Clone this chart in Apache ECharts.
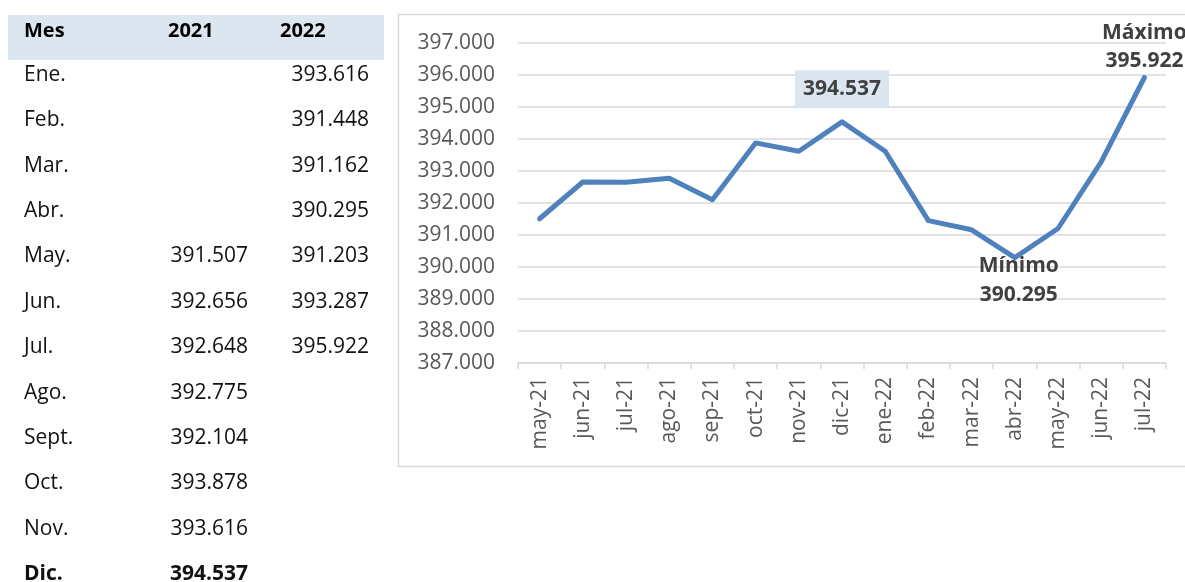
<!DOCTYPE html>
<html>
<head>
<meta charset="utf-8">
<script src="https://cdn.jsdelivr.net/npm/echarts@6/dist/echarts.min.js"></script>
<style>
html,body{margin:0;padding:0;background:#fff;}
#c{width:1185px;height:582px;}
</style>
</head>
<body>
<div id="c"></div>
<script>
// ---- data ----
var tableHeader = ['Mes', '2021', '2022'];
var tableMonths = ['Ene.', 'Feb.', 'Mar.', 'Abr.', 'May.', 'Jun.', 'Jul.', 'Ago.', 'Sept.', 'Oct.', 'Nov.', 'Dic.'];
var values2021 = [null, null, null, null, 391507, 392656, 392648, 392775, 392104, 393878, 393616, 394537];
var values2022 = [393616, 391448, 391162, 390295, 391203, 393287, 395922, null, null, null, null, null];
var categories = ['may-21', 'jun-21', 'jul-21', 'ago-21', 'sep-21', 'oct-21', 'nov-21', 'dic-21',
                  'ene-22', 'feb-22', 'mar-22', 'abr-22', 'may-22', 'jun-22', 'jul-22'];
var yTicks = [387000, 388000, 389000, 390000, 391000, 392000, 393000, 394000, 395000, 396000, 397000];
var highlightLabel = 'dic-21';
var minLabel = 'Mínimo';
var maxLabel = 'Máximo';

// ---- helpers ----
function fmt(v) {
  return String(Math.round(v)).replace(/\B(?=(\d{3})+(?!\d))/g, '.');
}
var FONT = '"Open Sans", "Noto Sans", sans-serif';

// series built from the table columns
var seriesValues = values2021.filter(function (v) { return v != null; })
  .concat(values2022.filter(function (v) { return v != null; }));

var maxV = Math.max.apply(null, seriesValues);
var minV = Math.min.apply(null, seriesValues);
var maxIdx = seriesValues.indexOf(maxV);
var minIdx = seriesValues.indexOf(minV);
var hiIdx = categories.indexOf(highlightLabel);

var seriesData = seriesValues.map(function (v, i) {
  var item = { value: v };
  if (i === hiIdx) {
    item.label = {
      show: true, position: 'top', distance: 12,
      formatter: function (p) { return fmt(p.value); },
      backgroundColor: '#DCE6F1', padding: [6, 8, 6, 8],
      fontFamily: FONT, fontWeight: 'bold', fontSize: 21, color: '#404040', lineHeight: 26
    };
  } else if (i === maxIdx) {
    item.label = {
      show: true, position: 'top', distance: 1,
      formatter: function (p) { return maxLabel + '\n' + fmt(p.value); },
      fontFamily: FONT, fontWeight: 'bold', fontSize: 21, color: '#404040', lineHeight: 28, align: 'center'
    };
  } else if (i === minIdx) {
    item.label = {
      show: true, position: 'bottom', distance: 0, offset: [4, -8],
      formatter: function (p) { return minLabel + '\n' + fmt(p.value); },
      fontFamily: FONT, fontWeight: 'bold', fontSize: 21, color: '#404040', lineHeight: 29, align: 'center'
    };
  }
  return item;
});

// ---- table graphics ----
var graphics = [];
graphics.push({
  type: 'rect', shape: { x: 8, y: 15, width: 376, height: 45 },
  style: { fill: '#DCE6F1' }, silent: true
});
var headerX = [24, 168, 280];
tableHeader.forEach(function (t, i) {
  graphics.push({
    type: 'text', x: headerX[i], y: 31,
    style: { text: t, fontFamily: FONT, fontWeight: 'bold', fontSize: 20, fill: '#000',
             align: 'left', verticalAlign: 'middle' }
  });
});
var rowY0 = 75, rowStep = 45.36;
tableMonths.forEach(function (m, i) {
  var y = rowY0 + i * rowStep;
  var bold = (i === tableMonths.length - 1) ? 'bold' : 'normal';
  graphics.push({
    type: 'text', x: 24, y: y,
    style: { text: m, fontFamily: FONT, fontWeight: bold, fontSize: 21, fill: '#111',
             align: 'left', verticalAlign: 'middle' }
  });
  if (values2021[i] != null) {
    graphics.push({
      type: 'text', x: 248, y: y,
      style: { text: fmt(values2021[i]), fontFamily: FONT, fontWeight: bold, fontSize: 21, fill: '#111',
               align: 'right', verticalAlign: 'middle' }
    });
  }
  if (values2022[i] != null) {
    graphics.push({
      type: 'text', x: 369, y: y,
      style: { text: fmt(values2022[i]), fontFamily: FONT, fontWeight: bold, fontSize: 21, fill: '#111',
               align: 'right', verticalAlign: 'middle' }
    });
  }
});
// chart frame
graphics.push({
  type: 'rect', shape: { x: 398.5, y: 14.5, width: 820, height: 452 },
  style: { fill: 'none', stroke: '#D9D9D9', lineWidth: 1.5 }, silent: true, z: -1
});

var chart = echarts.init(document.getElementById('c'), null, { renderer: 'canvas' });
chart.setOption({
  animation: false,
  backgroundColor: '#fff',
  graphic: graphics,
  grid: { left: 518, right: 19, top: 43, bottom: 219, containLabel: false, outerBoundsMode: 'none' },
  xAxis: {
    type: 'category',
    data: categories,
    boundaryGap: true,
    axisLine: { show: true, lineStyle: { color: '#D9D9D9', width: 1.5 } },
    axisTick: { show: true, interval: 0, length: 6, lineStyle: { color: '#D9D9D9', width: 1.5 } },
    axisLabel: { interval: 0, rotate: 90, margin: 14, color: '#595959', fontFamily: FONT, fontSize: 21 }
  },
  yAxis: {
    type: 'value',
    min: yTicks[0], max: yTicks[yTicks.length - 1], interval: 1000,
    axisLine: { show: false }, axisTick: { show: false },
    splitLine: { show: true, lineStyle: { color: '#D9D9D9', width: 1.5 } },
    axisLabel: { margin: 23, color: '#595959', fontFamily: FONT, fontSize: 21,
                 formatter: function (v) { return fmt(v); } }
  },
  series: [{
    type: 'line',
    data: seriesData,
    symbol: 'circle', symbolSize: 3, showSymbol: true,
    itemStyle: { color: '#4F81BD' },
    lineStyle: { color: '#4F81BD', width: 5, cap: 'round', join: 'round' },
    z: 5
  }]
});
</script>
</body>
</html>
